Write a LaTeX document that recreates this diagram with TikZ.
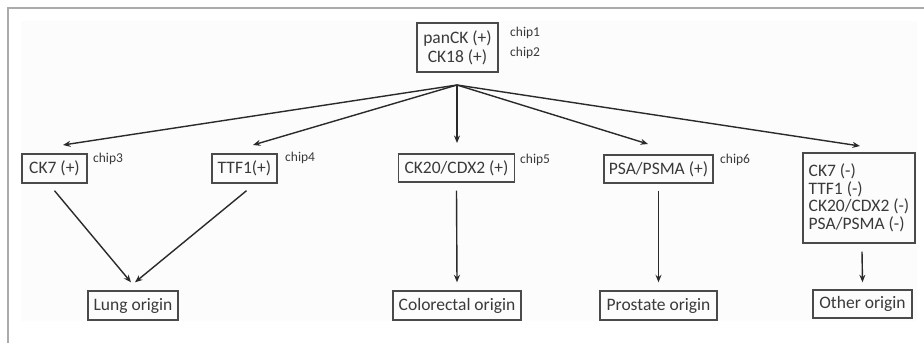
\documentclass[tikz,border=0pt]{standalone}
\usepackage{fontspec}
\setmainfont{Carlito}
\usetikzlibrary{arrows.meta}
\definecolor{txt}{HTML}{3A3A3A}
\definecolor{boxc}{HTML}{4A4A4A}
\definecolor{linec}{HTML}{2A2A2A}
\definecolor{framec}{HTML}{ABABAB}
\definecolor{innerc}{HTML}{FCFCFC}
\begin{document}
\begin{tikzpicture}[x=1pt,y=-1pt,
  box/.style={draw=boxc, line width=1.4pt, text=txt, inner sep=0pt,
    font=\fontsize{17.5}{19}\selectfont},
  chiplab/.style={text=txt, font=\fontsize{13.5}{15}\selectfont, anchor=west, inner sep=0pt},
  conn/.style={draw=linec, line width=1.4pt},
  arr/.style={conn, -{Stealth[length=7.5pt,width=6pt]}}]
\useasboundingbox (0,0) rectangle (924,343);
\fill[white] (0,0) rectangle (924,343);
\fill[innerc] (21,21) rectangle (917,321);
\draw[framec, line width=2pt] (924,8) -- (8,8) -- (8,343);

% nodes
\node[box, minimum width=81pt, minimum height=49pt, align=center,
  font=\fontsize{17.5}{19}\selectfont] (top) at (457.5,47.5) {panCK (+)\\CK18 (+)};
\node[chiplab] (chip1) at (510,33) {chip1};
\node[chiplab] (chip2) at (510,53) {chip2};

\node[box, minimum width=65pt, minimum height=29pt] (ck7) at (54.5,168.5) {CK7 (+)};
\node[chiplab] (chip3) at (93,159) {chip3};
\node[box, minimum width=65pt, minimum height=29pt] (ttf1) at (244.5,168.5) {TTF1(+)};
\node[chiplab] (chip4) at (285,158) {chip4};
\node[box, minimum width=116pt, minimum height=28pt] (ck20) at (456.5,168) {CK20/CDX2 (+)};
\node[chiplab] (chip5) at (520,160) {chip5};
\node[box, minimum width=109pt, minimum height=28pt] (psa) at (658.5,169) {PSA/PSMA (+)};
\node[chiplab] (chip6) at (720,160) {chip6};
\node[box, minimum width=112pt, minimum height=90pt, align=left,
  font=\fontsize{17.5}{17.6}\selectfont] (other) at (859,198)
  {CK7 (-)\\TTF1 (-)\\CK20/CDX2 (-)\\PSA/PSMA (-)};

\node[box, minimum width=90pt, minimum height=29pt] (lung) at (133,305.5) {Lung origin};
\node[box, minimum width=128pt, minimum height=29pt] (colo) at (457,305.5) {Colorectal origin};
\node[box, minimum width=117pt, minimum height=29pt] (pros) at (658.5,305.5) {Prostate origin};
\node[box, minimum width=99pt, minimum height=28pt] (otho) at (862.5,304) {Other origin};

% connector end points
\coordinate (apex) at (457,85);
\coordinate (ck7in) at (63,145);
\coordinate (ttf1in) at (253,145);
\coordinate (ck20in) at (457,143);
\coordinate (psain) at (648,144);
\coordinate (otherin) at (860,146);

\draw[arr] (apex) -- (ck7in);
\draw[arr] (apex) -- (ttf1in);
\draw[arr] (apex) -- (ck20in);
\draw[arr] (apex) -- (psain);
\draw[arr] (apex) -- (otherin);

\draw[arr] ([yshift=-7pt]ck7.south) -- ([xshift=-2pt,yshift=8pt]lung.north);
\draw[arr] ([xshift=2pt,yshift=-7pt]ttf1.south) -- ([xshift=2pt,yshift=8pt]lung.north);
\draw[arr] ([yshift=-8pt]ck20.south) -- ([yshift=8pt]colo.north);
\draw[arr] ([yshift=-7pt]psa.south) -- ([yshift=8pt]pros.north);
\draw[arr] ([xshift=3pt,yshift=-8pt]other.south) -- ([yshift=7pt]otho.north);
\end{tikzpicture}
\end{document}
